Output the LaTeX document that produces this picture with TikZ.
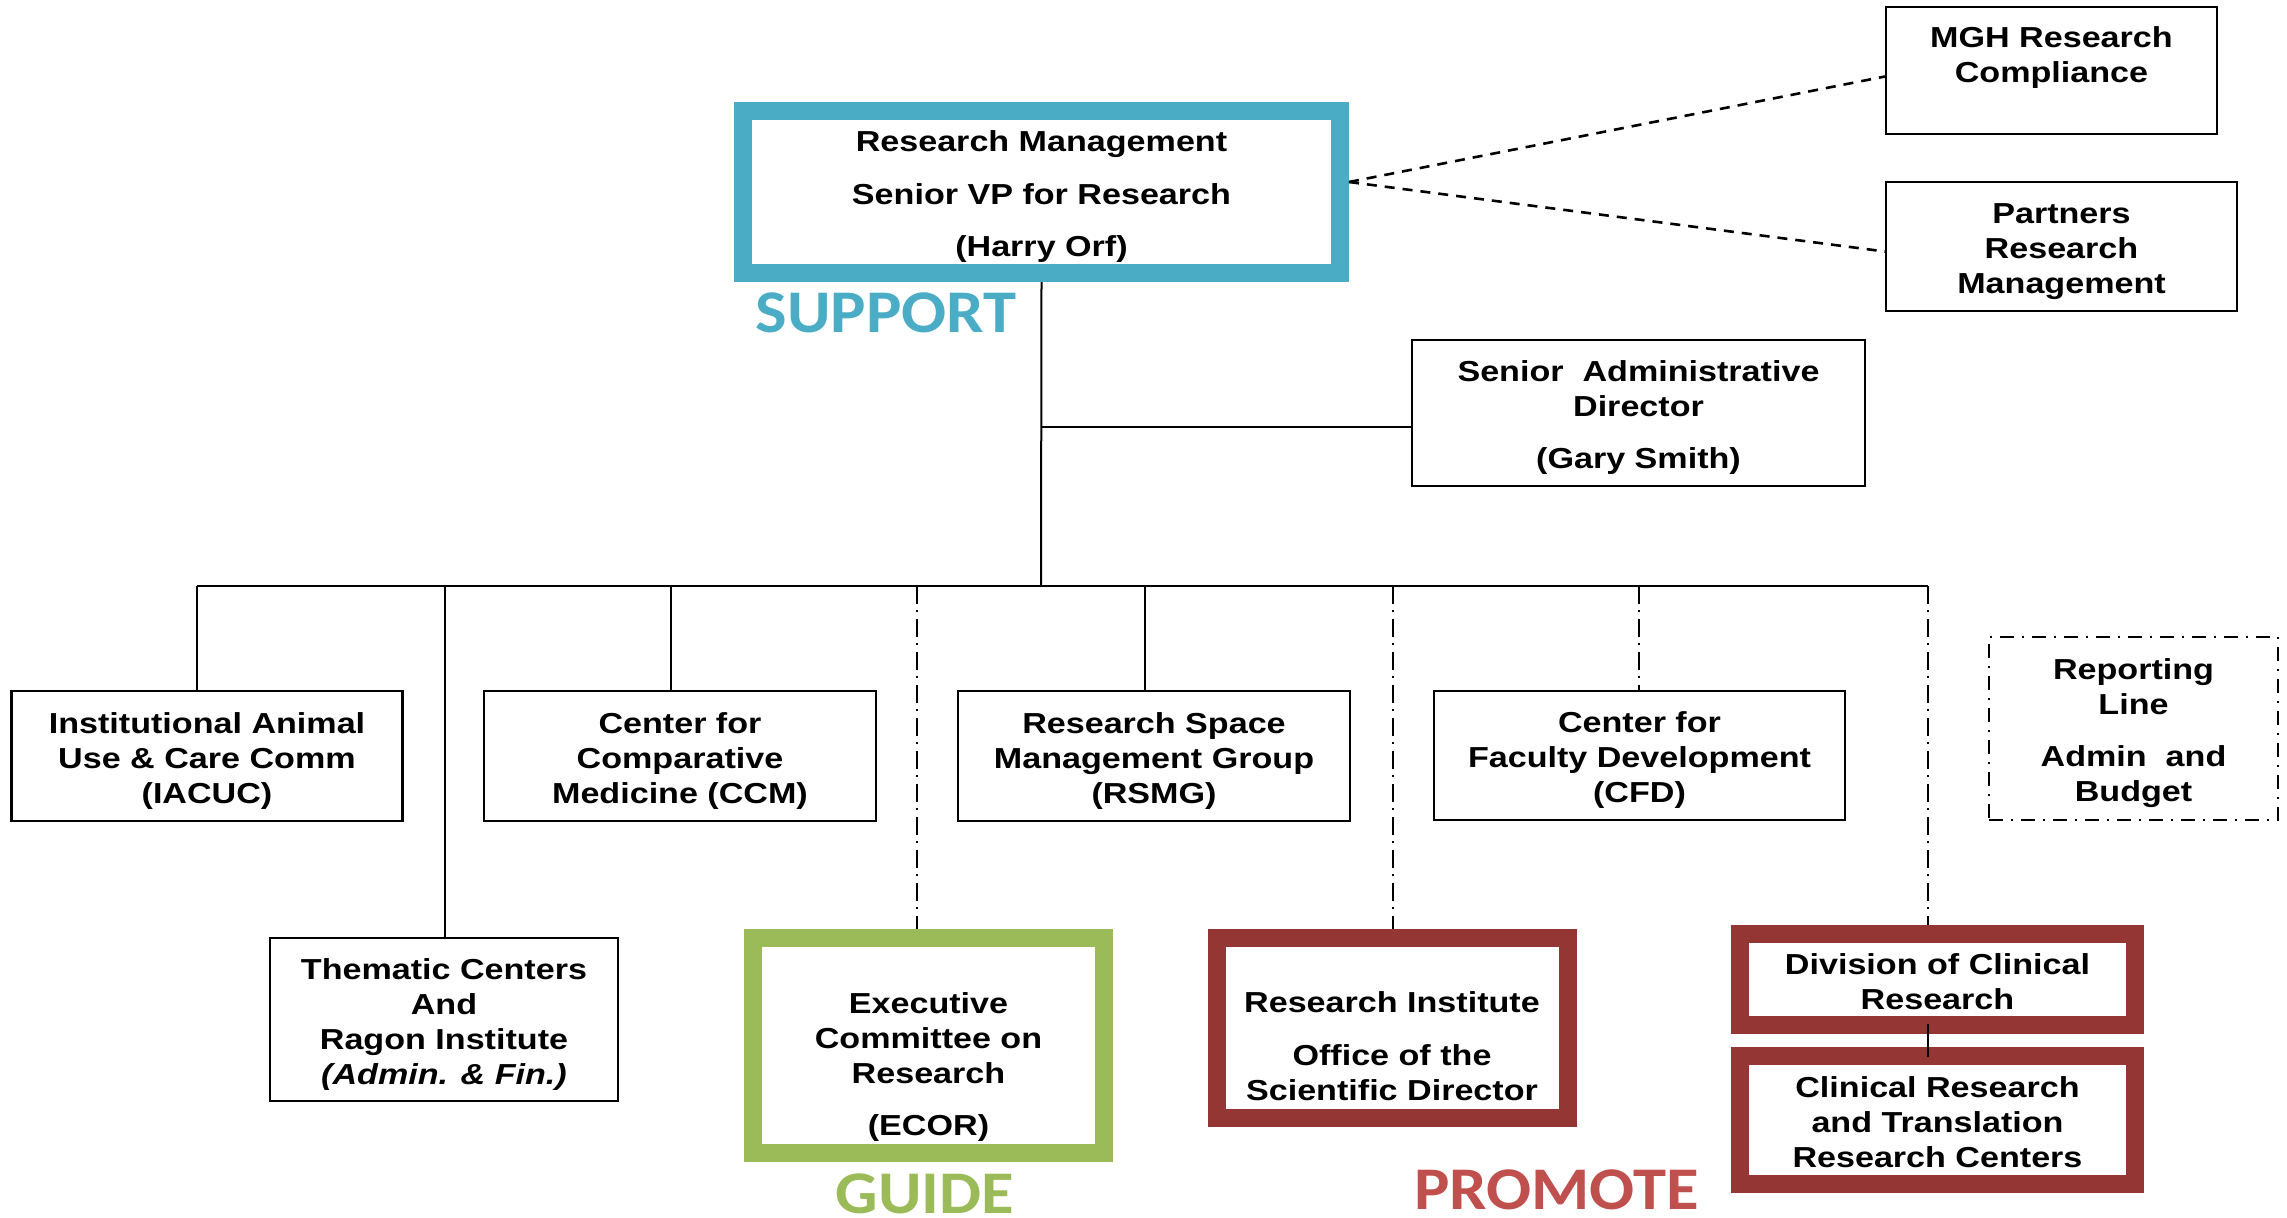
\documentclass[tikz,border=0pt]{standalone}
\usepackage{fontspec}
\setmainfont{Liberation Sans}[FakeStretch=1.18]
\newfontfamily\tagfont{Carlito}[FakeStretch=1.1]
\usepackage{xcolor}
\usetikzlibrary{positioning}

\definecolor{supportblue}{HTML}{4BACC6}
\definecolor{guidegreen}{HTML}{9BBB59}
\definecolor{promotered}{HTML}{943634}
\definecolor{promotelabel}{HTML}{C0504D}

\newcommand\upstrut{\rule{0pt}{16pt}}
\newcommand\downstrut{\rule[-4pt]{0pt}{0pt}}

\tikzset{
  unit/.style={draw, line width=1.1pt, align=center, inner sep=0pt,
    font=\fontsize{14.45}{17.5}\selectfont\bfseries},
  keyunit/.style={unit, draw=#1, line width=9pt},
  legendunit/.style={unit, line width=1pt, dash pattern=on 7pt off 4pt on 1pt off 4pt},
  tag/.style={inner sep=0pt, font=\tagfont\bfseries\fontsize{30.3}{36}\selectfont},
  link/.style={line width=1pt},
  adminline/.style={dash pattern=on 9pt off 3pt on 1pt off 3.5pt},
  partnerline/.style={line width=1.3pt, dash pattern=on 5pt off 4pt}
}

\begin{document}
\begin{tikzpicture}[x=0.5pt, y=-0.5pt]
  \useasboundingbox (0,0) rectangle (2287,1217);

  % top level
  \node[keyunit=supportblue, minimum width=298.5pt, minimum height=81pt] (rm) at (1041.5,192)
       {\upstrut Research Management\\[8.75pt]Senior VP for Research\\[8.75pt](Harry Orf)\downstrut};
  \node[tag, text=supportblue] (support) at (886,313) {SUPPORT};
  \node[unit, minimum width=165.5pt, minimum height=63.5pt] (mgh) at (2051.5,70.5)
       {\upstrut MGH Research\\Compliance\\\downstrut};
  \node[unit, minimum width=175.5pt, minimum height=64.5pt] (partners) at (2061.5,246.5)
       {\upstrut Partners\\Research\\Management\downstrut};
  \node[unit, minimum width=226.5pt, minimum height=73pt] (sad) at (1638.5,413)
       {\upstrut Senior~ Administrative\\Director\\[8.75pt](Gary Smith)\downstrut};

  % middle row
  \node[unit, minimum width=195.5pt, minimum height=65pt] (iacuc) at (207,756)
       {\upstrut Institutional Animal\\Use \& Care Comm\\(IACUC)\downstrut};
  \node[unit, minimum width=196pt, minimum height=65pt] (ccm) at (680,756)
       {\upstrut Center for\\Comparative\\Medicine (CCM)\downstrut};
  \node[unit, minimum width=196pt, minimum height=65pt] (rsmg) at (1154,756)
       {\upstrut Research Space\\Management Group\\(RSMG)\downstrut};
  \node[unit, minimum width=205.5pt, minimum height=64.5pt] (cfd) at (1639.5,755.5)
       {\upstrut Center for\\Faculty Development\\(CFD)\downstrut};
  \node[legendunit, minimum width=144.5pt, minimum height=91.5pt] (report) at (2133.5,728.5)
       {\upstrut Reporting\\Line\\[8.75pt]Admin~ and\\Budget\downstrut};

  % bottom row
  \node[unit, minimum width=174pt, minimum height=81.5pt] (thematic) at (444,1019.5)
       {\upstrut Thematic Centers\\And\\Ragon Institute\\\textit{(Admin. \& Fin.)}\downstrut};
  \node[keyunit=guidegreen, minimum width=175.5pt, minimum height=107.5pt] (ecor) at (928.5,1045.5) {};
  \node[unit, draw=none] (ecortext) at (928.5,1062.5)
       {\upstrut Executive\\Committee on\\Research\\[8.75pt](ECOR)\downstrut};
  \node[tag, text=guidegreen] (guide) at (925,1193.5) {GUIDE};
  \node[keyunit=promotered, minimum width=175.5pt, minimum height=90pt] (ri) at (1392,1028) {};
  \node[unit, draw=none] (ritext) at (1392,1044.5)
       {\upstrut Research Institute\\[8.75pt]Office of the\\Scientific Director\downstrut};
  \node[keyunit=promotered, minimum width=197.5pt, minimum height=45.5pt] (div) at (1937.5,979.5)
       {\upstrut Division of Clinical\\Research\downstrut};
  \node[keyunit=promotered, minimum width=197.5pt, minimum height=64pt, below=6.5pt of div] (crtrc)
       {\upstrut Clinical Research\\and Translation\\Research Centers\downstrut};
  \node[tag, text=promotelabel] (promote) at (1556.5,1189.5) {PROMOTE};

  % reporting lines
  \coordinate (hub)    at (1041,586);
  \coordinate (sadtap) at (1041,427);
  \coordinate (busL)   at (197,586);
  \coordinate (busR)   at (1928,586);

  \draw[link] (rm.south) -- (hub);
  \draw[link] (sadtap) -- (sadtap -| sad.west);
  \draw[link] (busL) -- (busR);
  \foreach \x/\n in {197/iacuc, 445/thematic, 671/ccm, 1145/rsmg}
    \draw[link] (\x,586) coordinate (top) -- (top |- \n.north);
  \foreach \x/\n in {917/ecor, 1393/ri, 1639/cfd, 1928/div}
    \draw[link, adminline] (\x,586) coordinate (top) -- (top |- \n.north);
  \draw[link, shorten <=-5pt, shorten >=-5pt] (busR |- div.south) -- (busR |- crtrc.north);

  \draw[partnerline] ([yshift=5pt]rm.east) -- ([yshift=-3pt]mgh.west);
  \draw[partnerline] ([yshift=5pt]rm.east) -- ([yshift=-2.5pt]partners.west);
\end{tikzpicture}
\end{document}
